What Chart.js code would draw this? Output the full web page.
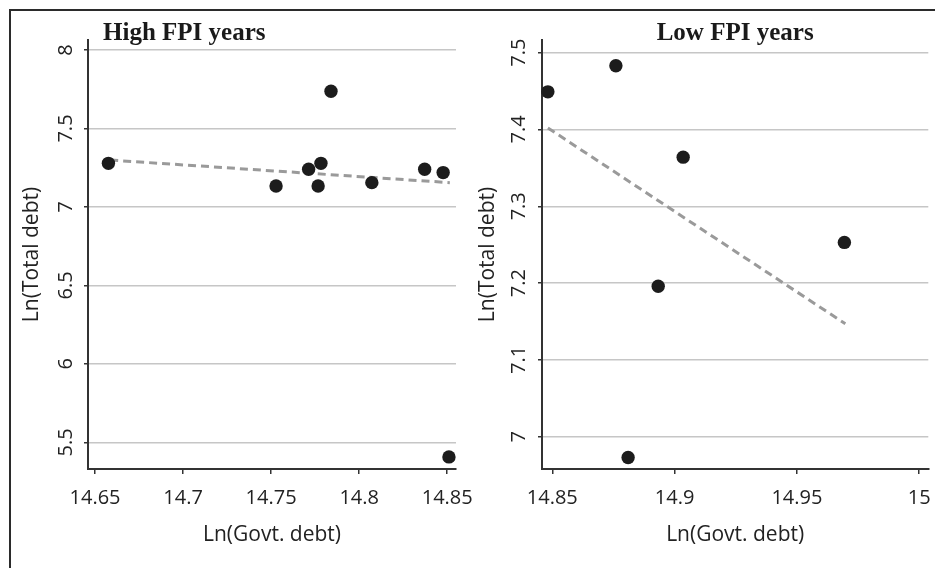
<!DOCTYPE html>
<html>
<head>
<meta charset="utf-8">
<script src="https://cdn.jsdelivr.net/npm/chart.js@4"></script>
<style>
  html, body { margin: 0; padding: 0; background: #fff; overflow: hidden; }
  body { width: 935px; height: 568px; position: relative; }
  #frame { position: absolute; left: 9px; top: 9px; width: 2000px; height: 2000px; border: 2px solid #2b2b2b; }
  #highChart { position: absolute; left: 0; top: 0; }
  #lowChart { position: absolute; left: 468px; top: 0; }
</style>
</head>
<body>
<div id="frame"></div>
<canvas id="highChart" width="490" height="568"></canvas>
<canvas id="lowChart" width="467" height="568"></canvas>
<script>
// High FPI years
const highGovtDebt = [14.6576, 14.7528, 14.7713, 14.7783, 14.7767, 14.7840, 14.8072, 14.8372, 14.8477, 14.8510];
const highTotalDebt = [7.278, 7.134, 7.240, 7.278, 7.134, 7.737, 7.155, 7.240, 7.219, 5.407];
const highFitX = [14.6586, 14.8515];
const highFitY = [7.299, 7.155];
const highXTicks = [14.65, 14.7, 14.75, 14.8, 14.85];
const highYTicks = [5.5, 6, 6.5, 7, 7.5, 8];

// Low FPI years
const lowGovtDebt = [14.8482, 14.8760, 14.9035, 14.9694, 14.8933, 14.8810];
const lowTotalDebt = [7.449, 7.483, 7.364, 7.253, 7.196, 6.973];
const lowFitX = [14.8482, 14.9698];
const lowFitY = [7.402, 7.147];
const lowXTicks = [14.85, 14.9, 14.95, 15];
const lowYTicks = [7, 7.1, 7.2, 7.3, 7.4, 7.5];

const sans = "'Open Sans', sans-serif";
const ink = "#222";

function pairs(xs, ys) {
    return xs.map((x, i) => ({ x: x, y: ys[i] }));
}

function drawPanel(id, cfg) {

    const titlePlugin = {
        id: "panelTitle",
        afterDraw(chart) {
            const area = chart.chartArea;
            const c = chart.ctx;
            c.save();
            c.font = "bold 25px 'Liberation Serif', serif";
            c.fillStyle = "#1a1a1a";
            c.textBaseline = "alphabetic";
            if (cfg.titleAlign === "left") {
                c.textAlign = "left";
                c.fillText(cfg.title, area.left + 15, 40);
            } else {
                c.textAlign = "center";
                c.fillText(cfg.title, (area.left + area.right) / 2, 40);
            }
            c.restore();
        }
    };

    new Chart(document.getElementById(id), {

        type: "scatter",

        data: {

            datasets: [{
                data: pairs(cfg.x, cfg.y),
                backgroundColor: "#1c1c1c",
                borderWidth: 0,
                pointRadius: 6.7,
                pointHoverRadius: 6.7,
                clip: false
            }, {
                type: "line",
                data: pairs(cfg.fitX, cfg.fitY),
                borderColor: "#9a9a9a",
                borderWidth: 3,
                borderDash: [8, 5],
                pointRadius: 0,
                fill: false
            }]

        },

        options: {

            responsive: false,
            animation: false,

            layout: {
                padding: { top: 40, right: cfg.padRight, bottom: 0, left: 0 }
            },

            plugins: {
                legend: { display: false },
                tooltip: { enabled: false }
            },

            scales: {

                x: {
                    type: "linear",
                    min: cfg.xMin,
                    max: cfg.xMax,
                    afterBuildTicks(scale) {
                        scale.ticks = cfg.xTicks.map(v => ({ value: v }));
                    },
                    afterFit(scale) {
                        scale.height = 99;
                        scale.paddingLeft = 0;
                        scale.paddingRight = 0;
                    },
                    border: { color: "#333", width: 2 },
                    grid: {
                        drawOnChartArea: false,
                        drawTicks: true,
                        tickLength: 5,
                        tickColor: "#333",
                        lineWidth: 1.5
                    },
                    ticks: {
                        color: ink,
                        padding: 12,
                        maxRotation: 0,
                        font: { family: sans, size: 20 },
                        callback: v => String(v)
                    },
                    title: {
                        display: true,
                        text: "Ln(Govt. debt)",
                        color: ink,
                        padding: { top: 0, bottom: 20 },
                        font: { family: sans, size: 21 }
                    }
                },

                y: {
                    type: "linear",
                    min: cfg.yMin,
                    max: cfg.yMax,
                    afterBuildTicks(scale) {
                        scale.ticks = cfg.yTicks.map(v => ({ value: v }));
                    },
                    afterFit(scale) {
                        scale.width = cfg.yWidth;
                        scale.paddingTop = 0;
                        scale.paddingBottom = 0;
                    },
                    border: { color: "#333", width: 2 },
                    grid: {
                        color: "#c6c6c6",
                        lineWidth: 1.5,
                        drawTicks: true,
                        tickLength: 4,
                        tickColor: "#333"
                    },
                    ticks: {
                        color: ink,
                        padding: cfg.yTickPad,
                        minRotation: 90,
                        maxRotation: 90,
                        crossAlign: "center",
                        font: { family: sans, size: 20 },
                        callback: v => String(v)
                    },
                    title: {
                        display: true,
                        text: "Ln(Total debt)",
                        color: ink,
                        padding: { top: cfg.yTitlePad, bottom: 0 },
                        font: { family: sans, size: 21 }
                    }
                }

            }

        },

        plugins: [titlePlugin]

    });

}

drawPanel("highChart", {
    title: "High FPI years",
    titleAlign: "left",
    x: highGovtDebt,
    y: highTotalDebt,
    fitX: highFitX,
    fitY: highFitY,
    xTicks: highXTicks,
    yTicks: highYTicks,
    xMin: 14.646,
    xMax: 14.855,
    yMin: 5.33,
    yMax: 8.064,
    yWidth: 88,
    yTickPad: 4,
    yTitlePad: 19,
    padRight: 34
});

drawPanel("lowChart", {
    title: "Low FPI years",
    titleAlign: "center",
    x: lowGovtDebt,
    y: lowTotalDebt,
    fitX: lowFitX,
    fitY: lowFitY,
    xTicks: lowXTicks,
    yTicks: lowYTicks,
    xMin: 14.8458,
    xMax: 15.0037,
    yMin: 6.958,
    yMax: 7.5165,
    yWidth: 74,
    yTickPad: 5,
    yTitlePad: 7,
    padRight: 4
});
</script>
</body>
</html>
